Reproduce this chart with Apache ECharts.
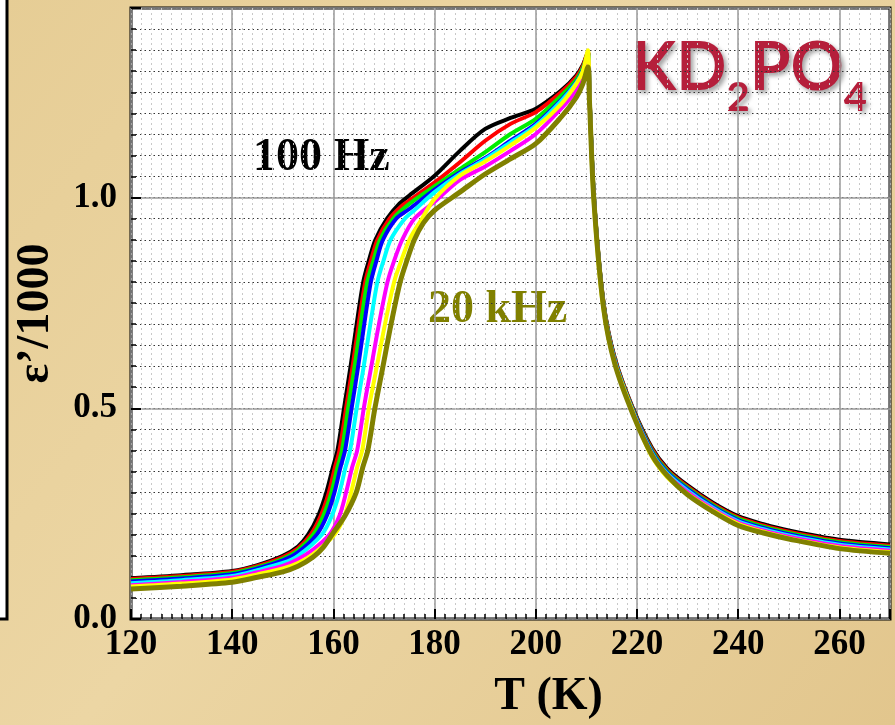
<!DOCTYPE html>
<html>
<head>
<meta charset="utf-8">
<title>KD2PO4 ε'</title>
<script src="https://cdn.jsdelivr.net/npm/echarts@6/dist/echarts.min.js"></script>
<style>
  html, body { margin: 0; padding: 0; }
  #chart { width: 895px; height: 725px; }
</style>
</head>
<body>
<div id="chart"></div>
<script>
// ε'/1000 vs T (K), one curve per measuring frequency, [T, value]
const f100Hz = [[120,0.097],[130,0.104],[140,0.114],[145,0.128],[150,0.150],[153,0.172],[155,0.200],[157,0.245],[158.6,0.300],[159.9,0.360],[160.8,0.400],[162.1,0.500],[163.4,0.600],[164.6,0.700],[165.9,0.800],[167.0,0.850],[168.3,0.900],[170.6,0.950],[173.0,0.985],[175,1.005],[180,1.052],[185,1.111],[190,1.163],[195,1.189],[200,1.211],[205,1.254],[208,1.290],[209.3,1.315],[210.3,1.345],[210.6,1.250],[211.5,1.000],[213.4,0.750],[215.6,0.620],[219.2,0.500],[223,0.405],[226,0.357],[230,0.317],[235,0.276],[240,0.244],[245,0.225],[250,0.210],[260,0.188],[270,0.177]]
const fRed = [[120,0.095],[130,0.102],[140,0.112],[145,0.126],[150,0.147],[153,0.168],[155.5,0.200],[157.5,0.245],[159.1,0.300],[160.3,0.360],[161.2,0.400],[162.5,0.500],[163.8,0.600],[165.0,0.700],[166.3,0.800],[167.4,0.850],[168.7,0.900],[171.1,0.950],[173.5,0.980],[175,0.993],[180,1.036],[185,1.084],[190,1.135],[195,1.175],[200,1.203],[205,1.250],[208,1.286],[209.3,1.312],[210.3,1.345],[210.6,1.248],[211.5,1.000],[213.4,0.748],[215.6,0.618],[219.2,0.498],[223,0.402],[226,0.354],[230,0.314],[235,0.273],[240,0.241],[245,0.222],[250,0.207],[260,0.185],[270,0.174]]
const fGreen = [[120,0.092],[130,0.099],[140,0.109],[145,0.123],[150,0.143],[153,0.163],[156,0.200],[158,0.245],[159.6,0.300],[160.8,0.360],[161.7,0.400],[162.9,0.500],[164.2,0.600],[165.4,0.700],[166.7,0.800],[167.9,0.850],[169.2,0.900],[171.8,0.950],[175,0.985],[180,1.027],[185,1.068],[190,1.108],[195,1.151],[200,1.187],[205,1.242],[208,1.280],[209.3,1.308],[210.3,1.343],[210.6,1.246],[211.5,1.000],[213.4,0.746],[215.6,0.616],[219.2,0.496],[223,0.399],[226,0.351],[230,0.311],[235,0.270],[240,0.238],[245,0.219],[250,0.204],[260,0.182],[270,0.171]]
const fBlue = [[120,0.089],[130,0.096],[140,0.106],[145,0.120],[150,0.139],[153,0.158],[156.7,0.200],[158.7,0.245],[160.2,0.300],[161.4,0.360],[162.3,0.400],[163.6,0.500],[164.9,0.600],[166.1,0.700],[167.4,0.800],[168.5,0.850],[169.8,0.900],[172.4,0.950],[175,0.973],[180,1.019],[185,1.060],[190,1.094],[195,1.135],[200,1.175],[205,1.232],[208,1.274],[209.3,1.303],[210.3,1.343],[210.6,1.244],[211.5,0.998],[213.4,0.744],[215.6,0.614],[219.2,0.494],[223,0.396],[226,0.348],[230,0.308],[235,0.267],[240,0.235],[245,0.216],[250,0.201],[260,0.179],[270,0.168]]
const fCyan = [[120,0.085],[130,0.092],[140,0.102],[145,0.116],[150,0.133],[153,0.150],[157.7,0.200],[159.7,0.245],[161.2,0.300],[162.4,0.360],[163.3,0.400],[164.6,0.500],[166.0,0.600],[167.3,0.700],[168.7,0.800],[169.9,0.850],[171.3,0.900],[174.1,0.950],[176,0.970],[180,1.013],[185,1.056],[190,1.091],[195,1.131],[200,1.171],[205,1.229],[208,1.272],[209.3,1.300],[210.3,1.340],[210.6,1.242],[211.5,0.996],[213.4,0.742],[215.6,0.612],[219.2,0.492],[223,0.393],[226,0.345],[230,0.305],[235,0.264],[240,0.232],[245,0.213],[250,0.198],[260,0.176],[270,0.165]]
const fMagenta = [[120,0.080],[130,0.088],[140,0.098],[145,0.111],[150,0.126],[153,0.142],[156,0.165],[159.2,0.200],[161.2,0.245],[162.5,0.300],[163.7,0.360],[164.7,0.400],[166.0,0.500],[167.5,0.600],[169.0,0.700],[170.7,0.800],[172.0,0.850],[173.6,0.900],[176.0,0.950],[180,0.990],[185,1.042],[190,1.074],[195,1.111],[200,1.151],[205,1.211],[208,1.254],[209.3,1.285],[210.3,1.330],[210.6,1.236],[211.5,0.994],[213.4,0.740],[215.6,0.610],[219.2,0.490],[223,0.390],[226,0.342],[230,0.301],[235,0.261],[240,0.229],[245,0.210],[250,0.195],[260,0.173],[270,0.162]]
const fYellow = [[120,0.077],[130,0.084],[140,0.094],[145,0.106],[150,0.120],[153,0.133],[156,0.154],[160.2,0.200],[162.2,0.245],[163.5,0.300],[164.7,0.360],[165.7,0.400],[167.0,0.500],[168.6,0.600],[170.2,0.700],[172.0,0.800],[173.4,0.850],[175.0,0.900],[177.5,0.950],[180,0.997],[185,1.052],[190,1.086],[195,1.124],[200,1.166],[205,1.222],[208,1.270],[209.3,1.300],[210.3,1.350],[210.6,1.245],[211.4,1.000],[213.2,0.750],[215.3,0.620],[218.9,0.500],[222.5,0.395],[226,0.336],[230,0.297],[235,0.258],[240,0.226],[245,0.207],[250,0.192],[260,0.170],[270,0.159]]
const f20kHz = [[120,0.071],[130,0.078],[140,0.087],[145,0.099],[150,0.112],[153,0.125],[156,0.147],[158,0.170],[160,0.205],[162.3,0.245],[164.5,0.300],[165.8,0.360],[166.8,0.400],[168.2,0.500],[169.8,0.600],[171.4,0.700],[173.2,0.800],[174.5,0.850],[176.0,0.900],[177.8,0.940],[180,0.970],[185,1.013],[190,1.056],[195,1.092],[200,1.128],[205,1.191],[208,1.238],[209.3,1.270],[210.3,1.310],[210.6,1.230],[211.5,0.990],[213.4,0.738],[215.6,0.606],[219.2,0.486],[223,0.388],[226,0.340],[230,0.295],[235,0.255],[240,0.222],[245,0.204],[250,0.190],[260,0.167],[270,0.156]]

const curves = [f100Hz, fRed, fGreen, fBlue, fCyan, fMagenta, fYellow, f20kHz]
const curveNames = ['100 Hz', 'f2', 'f3', 'f4', 'f5', 'f6', 'f7', '20 kHz']
const curveColors = ['#000000', '#ff0000', '#00ee00', '#0000ff', '#00ffff', '#ff00ff', '#ffff00', '#808000']

const xMin = 120, xMax = 270
const yMin = 0, yMax = 1.45

const serif = '"Liberation Serif", "DejaVu Serif", serif'
const sans = 'Lato, "Open Sans", sans-serif'

const myChart = echarts.init(document.getElementById('chart'))

const option = {
  backgroundColor: {
    type: 'linear', x: 0, y: 0, x2: 1, y2: 1,
    colorStops: [
      { offset: 0, color: '#e6cd95' },
      { offset: 0.45, color: '#ecd6a4' },
      { offset: 1, color: '#e2c68d' }
    ]
  },
  animation: false,
  grid: {
    left: 131, right: 5, top: 8, bottom: 106,
    outerBoundsMode: 'none',
    containLabel: false,
    show: true,
    backgroundColor: '#ffffff',
    borderColor: '#000000',
    borderWidth: 3
  },
  xAxis: [
    {
      // fine 2 K steps: dotted grey grid + short ticks
      type: 'value', position: 'bottom', min: xMin, max: xMax, interval: 2,
      axisLine: { show: false },
      axisTick: { show: true, inside: true, length: 5, lineStyle: { color: '#000', width: 1.5 } },
      axisLabel: { show: false },
      splitLine: { show: true, lineStyle: { color: '#c8c8c8', type: [2, 3], width: 1 } }
    },
    {
      type: 'value', position: 'bottom', min: xMin, max: xMax, interval: 20,
      axisLine: { show: false },
      axisTick: { show: true, inside: true, length: 10, lineStyle: { color: '#000', width: 2 } },
      axisLabel: {
        margin: 8,
        color: '#000', fontFamily: serif, fontWeight: 'bold', fontSize: 35,
        formatter: v => (v % 20 === 0 && v < xMax ? String(v) : '')
      },
      splitLine: { show: true, lineStyle: { color: '#9a9a9a', width: 1.5 } },
      name: 'T (K)',
      nameLocation: 'middle',
      nameGap: 55,
      nameTextStyle: { color: '#000', fontFamily: serif, fontWeight: 'bold', fontSize: 46, padding: [0, 0, 0, 76] }
    }
  ],
  yAxis: [
    {
      type: 'value', position: 'left', min: yMin, max: yMax, interval: 0.05,
      axisLine: { show: false },
      axisTick: { show: true, inside: true, length: 5, lineStyle: { color: '#000', width: 1.5 } },
      axisLabel: { show: false },
      splitLine: { show: true, lineStyle: { color: '#333', type: [1.5, 3], width: 1 } }
    },
    {
      type: 'value', position: 'left', min: yMin, max: yMax, interval: 0.5,
      axisLine: { show: false },
      axisTick: { show: true, inside: true, length: 10, lineStyle: { color: '#000', width: 2 } },
      axisLabel: {
        margin: 14,
        color: '#000', fontFamily: serif, fontWeight: 'bold', fontSize: 35,
        formatter: v => (Math.abs(v * 2 - Math.round(v * 2)) < 1e-6 ? v.toFixed(1) : '')
      },
      splitLine: { show: true, lineStyle: { color: '#9a9a9a', width: 1.5 } },
      name: 'ε’/1000',
      nameLocation: 'middle',
      nameRotate: 90,
      nameGap: 72,
      nameTextStyle: { color: '#000', fontFamily: serif, fontWeight: 'bold', fontSize: 46 }
    }
  ],
  series: curves.map((data, i) => ({
    name: curveNames[i],
    type: 'line',
    xAxisIndex: 1,
    yAxisIndex: 1,
    data: data,
    showSymbol: false,
    smooth: 0.3,
    z: 3 + i,
    lineStyle: { color: curveColors[i], width: i === 7 ? 5 : 4 }
  })),
  graphic: [
    // edge of the neighbouring panel on the left
    {
      type: 'rect', silent: true, z: -1,
      shape: { x: -10, y: -10, width: 17, height: 629 },
      style: { fill: '#ffffff', stroke: '#000000', lineWidth: 3 }
    },
    {
      type: 'text', left: 253, top: 135,
      style: { text: '100 Hz', fill: '#000', font: 'bold 46px ' + serif }
    },
    {
      type: 'text', left: 428, top: 287,
      style: { text: '20 kHz', fill: '#808000', font: 'bold 46px ' + serif }
    },
    {
      type: 'text', left: 631, top: 36,
      style: {
        text: '{k|KD}{s|2}{k|PO}{s|4}',
        fill: '#b51f3b',
        textShadowColor: 'rgba(0,0,0,0.35)', textShadowBlur: 4, textShadowOffsetX: 3, textShadowOffsetY: 3,
        rich: {
          k: { fontFamily: sans, fontWeight: 'bold', fontSize: 66, fill: '#b51f3b', verticalAlign: 'bottom', padding: [0, 0, 16, 0] },
          s: { fontFamily: sans, fontWeight: 'bold', fontSize: 40, fill: '#b51f3b', verticalAlign: 'bottom' }
        }
      }
    }
  ]
}

myChart.setOption(option)
</script>
</body>
</html>
